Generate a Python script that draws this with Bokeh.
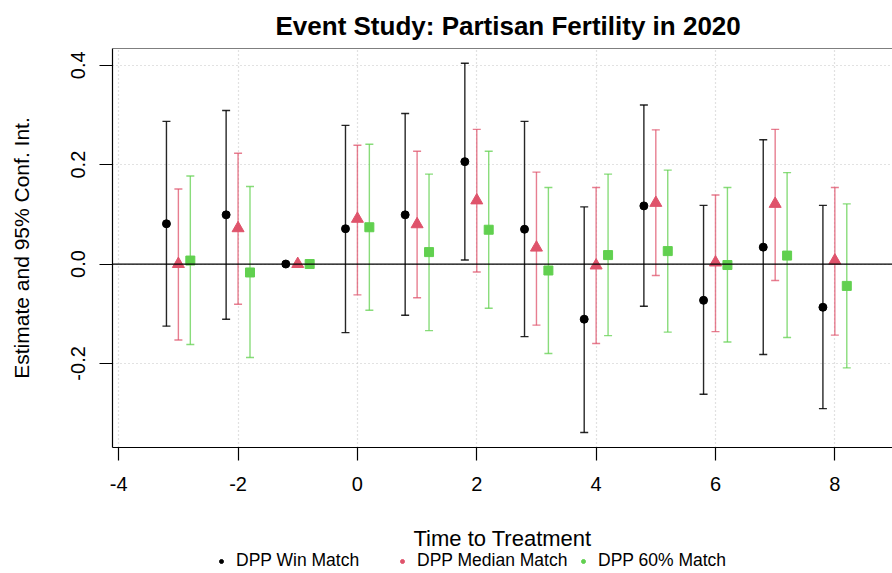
from bokeh.plotting import figure
from bokeh.layouts import column
from bokeh.models import (ColumnDataSource, Whisker, TeeHead, Span, FixedTicker,
                          NumeralTickFormatter, Legend, LegendItem, Range1d)
from bokeh.embed import file_html
from bokeh.resources import INLINE

# ---------------- data ----------------
t = [-3, -2, -1, 0, 1, 2, 3, 4, 5, 6, 7, 8]

win_est = [0.081, 0.099, 0.0, 0.071, 0.099, 0.206, 0.070, -0.111, 0.117, -0.073, 0.034, -0.087]
win_lo = [-0.125, -0.111, None, -0.138, -0.103, 0.008, -0.146, -0.339, -0.085, -0.262, -0.182, -0.291]
win_hi = [0.287, 0.309, None, 0.279, 0.303, 0.404, 0.287, 0.115, 0.320, 0.118, 0.250, 0.118]

med_est = [0.0, 0.072, 0.0, 0.091, 0.080, 0.128, 0.033, -0.003, 0.123, 0.003, 0.121, 0.007]
med_lo = [-0.153, -0.081, None, -0.062, -0.068, -0.016, -0.123, -0.160, -0.023, -0.136, -0.033, -0.143]
med_hi = [0.151, 0.223, None, 0.239, 0.227, 0.271, 0.185, 0.154, 0.270, 0.139, 0.271, 0.154]

p60_est = [0.007, -0.017, 0.0, 0.074, 0.024, 0.069, -0.013, 0.018, 0.026, -0.002, 0.017, -0.044]
p60_lo = [-0.162, -0.188, None, -0.093, -0.134, -0.089, -0.180, -0.144, -0.137, -0.157, -0.148, -0.209]
p60_hi = [0.177, 0.156, None, 0.241, 0.181, 0.227, 0.154, 0.181, 0.189, 0.154, 0.184, 0.121]

series_names = ["DPP Win Match", "DPP Median Match", "DPP 60% Match"]
x_ticks = [-4, -2, 0, 2, 4, 6, 8]
y_ticks = [-0.2, 0.0, 0.2, 0.4]

# ---------------- styles ----------------
FONT = "Liberation Sans"
colors = ["black", "#DF536B", "#61D04F"]
markers = ["circle", "triangle", "square"]
msizes = [8, 12, 9]
offsets = [-0.2, 0.0, 0.2]
bar_alpha = [0.85, 0.75, 0.75]
legend_x = [104, 285, 466]   # px from the frame's left edge for each legend entry
Y_TOP = 0.4337

p = figure(width=892, height=505, output_backend="svg", toolbar_location=None,
           x_range=Range1d(-4.104, 8.966), y_range=Range1d(-0.3692, Y_TOP),
           min_border_left=112, min_border_right=0, min_border_top=48, min_border_bottom=58)
p.outline_line_color = None
p.background_fill_color = "white"
p.border_fill_color = "white"

# title
p.title.text = "Event Study: Partisan Fertility in 2020"
p.title.align = "left"
p.title.offset = 163
p.title.standoff = 15
p.title.text_font = FONT
p.title.text_font_size = "26px"
p.title.text_font_style = "bold"
p.title.text_color = "black"

# axes
xa = p.xaxis[0]
xa.ticker = FixedTicker(ticks=x_ticks)
xa.formatter = NumeralTickFormatter(format="0")
ya = p.yaxis[0]
ya.ticker = FixedTicker(ticks=y_ticks)
ya.formatter = NumeralTickFormatter(format="0.0")
for ax in (xa, ya):
    ax.major_tick_out = 13
    ax.major_tick_in = 0
    ax.minor_tick_out = 0
    ax.minor_tick_in = 0
    ax.axis_line_color = "black"
    ax.axis_line_width = 1.2
    ax.major_tick_line_color = "black"
    ax.major_tick_line_width = 1.2
    ax.major_label_text_font = FONT
    ax.major_label_text_font_size = "20px"
    ax.major_label_text_color = "black"
    ax.axis_label_text_font = FONT
    ax.axis_label_text_font_size = "21px"
    ax.axis_label_text_font_style = "normal"
    ax.axis_label_text_color = "black"
ya.major_label_orientation = "vertical"
ya.major_label_standoff = 14
ya.axis_label = "Estimate and 95% Conf. Int."
ya.axis_label_standoff = 36
xa.major_label_standoff = 16

# grid
for g in (p.xgrid[0], p.ygrid[0]):
    g.grid_line_color = "#c4c4c4"
    g.grid_line_dash = "1 3"
    g.grid_line_width = 1.2
p.xgrid[0].ticker = FixedTicker(ticks=x_ticks)
p.ygrid[0].ticker = FixedTicker(ticks=y_ticks)

# zero line and top border
p.add_layout(Span(location=0, dimension="width", line_color="black", line_width=1.2))
p.add_layout(Span(location=Y_TOP, dimension="width", line_color="black", line_width=1.2))

ests = [win_est, med_est, p60_est]
los = [win_lo, med_lo, p60_lo]
his = [win_hi, med_hi, p60_hi]

for i in range(3):
    xs = [ti + offsets[i] for ti in t]
    wx, wl, wh = [], [], []
    for xv, lo, hi in zip(xs, los[i], his[i]):
        if lo is not None:
            wx.append(xv); wl.append(lo); wh.append(hi)
    wsrc = ColumnDataSource(dict(x=wx, lower=wl, upper=wh))
    w = Whisker(base="x", lower="lower", upper="upper", source=wsrc, dimension="height",
                line_color=colors[i], line_width=1.4, line_alpha=bar_alpha[i], level="underlay",
                upper_head=TeeHead(size=8, line_color=colors[i], line_width=1.4, line_alpha=bar_alpha[i]),
                lower_head=TeeHead(size=8, line_color=colors[i], line_width=1.4, line_alpha=bar_alpha[i]))
    p.add_layout(w)
    src = ColumnDataSource(dict(x=xs, y=ests[i]))
    p.scatter("x", "y", source=src, marker=markers[i], size=msizes[i],
              fill_color=colors[i], line_color=colors[i])

# ---------------- x label + legend strip ----------------
q = figure(width=892, height=68, output_backend="svg", toolbar_location=None,
           x_range=Range1d(0, 1), y_range=Range1d(0, 1),
           x_axis_location=None, y_axis_location=None,
           min_border_left=112, min_border_right=0, min_border_top=45, min_border_bottom=0)
q.outline_line_color = None
q.xgrid.visible = False
q.ygrid.visible = False
q.title.text = "Time to Treatment"
q.title.align = "left"
q.title.offset = 301
q.title.standoff = 0
q.title.text_font = FONT
q.title.text_font_size = "22px"
q.title.text_font_style = "normal"
q.title.text_color = "black"

for i in range(3):
    lsrc = ColumnDataSource(dict(x=[float("nan")], y=[float("nan")]))
    lr = q.scatter("x", "y", source=lsrc, marker="circle", size=5,
                   fill_color=colors[i], line_color=colors[i])
    lg = Legend(items=[LegendItem(label=series_names[i], renderers=[lr])],
                orientation="horizontal", location=(legend_x[i], 2),
                label_text_font=FONT, label_text_font_size="17.5px", label_text_color="black",
                glyph_width=10, glyph_height=10, label_standoff=10, label_height=18,
                padding=0, margin=0, border_line_color=None, background_fill_alpha=0)
    q.add_layout(lg, "center")

open("out.html", "w").write(file_html(column(p, q, spacing=0), INLINE))
